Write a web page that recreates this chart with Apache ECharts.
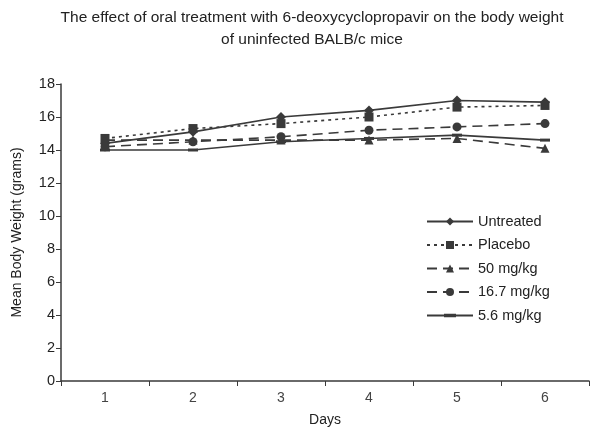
<!DOCTYPE html>
<html><head><meta charset="utf-8">
<script src="https://cdn.jsdelivr.net/npm/echarts@6/dist/echarts.min.js"></script>
<style>html,body{margin:0;padding:0;background:#fff}#c{width:600px;height:438px}</style>
</head><body><div id="c"></div>
<script>
const days = ['1','2','3','4','5','6'];
const untreated = [14.4, 15.1, 16.0, 16.4, 17.0, 16.9];
const placebo   = [14.7, 15.3, 15.6, 16.0, 16.6, 16.7];
const mg50      = [14.6, 14.6, 14.6, 14.6, 14.7, 14.1];
const mg167     = [14.2, 14.5, 14.8, 15.2, 15.4, 15.6];
const mg56      = [14.0, 14.0, 14.5, 14.7, 14.9, 14.6];
const yTicks = [0,2,4,6,8,10,12,14,16,18];

const C = '#3a3a3a';
const font = 'Liberation Sans, Arial, sans-serif';
function S(name, data, symbol, size, type){
  return {name, type:'line', data, symbol, symbolSize:size,
    lineStyle:{color:C, width:1.6, type}, itemStyle:{color:C}, z: 3};
}
const chart = echarts.init(document.getElementById('c'));
chart.setOption({
  animation:false,
  title:{text:'The effect of oral treatment with 6-deoxycyclopropavir on the body weight\nof uninfected BALB/c mice',
    left:307, textAlign:'center', top:2,
    textStyle:{fontFamily:font, fontSize:15.5, fontWeight:'normal', color:'#222', lineHeight:22}},
  grid:{left:61, right:11, top:84, bottom:57},
  legend:{orient:'vertical', left:421, top:209, itemWidth:46, itemHeight:10, itemGap:8.5,
    textStyle:{fontFamily:font, fontSize:14.5, color:'#222'},
    data:['Untreated','Placebo','50 mg/kg','16.7 mg/kg',
      {name:'5.6 mg/kg', icon:'path://M0,0 L46,0 L46,1.8 L0,1.8 Z M17,-0.8 L29,-0.8 L29,2.6 L17,2.6 Z'}]},
  xAxis:{type:'category', data:days, name:'Days', nameLocation:'middle', nameGap:32,
    nameTextStyle:{fontFamily:font, fontSize:14, color:'#222'},
    axisLine:{lineStyle:{color:C, width:1.5}},
    axisTick:{show:true, length:5, lineStyle:{color:C}},
    axisLabel:{fontFamily:font, fontSize:14, color:'#444', margin:10}},
  yAxis:{type:'value', min:0, max:18, interval:2, name:'Mean Body Weight (grams)', nameLocation:'middle', nameGap:37,
    nameTextStyle:{fontFamily:font, fontSize:14, color:'#222'},
    axisLine:{show:true, lineStyle:{color:C, width:1.5}},
    axisTick:{show:true, length:5, lineStyle:{color:C}},
    splitLine:{show:false},
    axisLabel:{fontFamily:font, fontSize:14.5, color:'#222', margin:6,
      formatter:v=>yTicks.includes(v)?String(v):''}},
  series:[
    S('Untreated', untreated, 'diamond', 10, 'solid'),
    S('Placebo', placebo, 'rect', 9, [3,4]),
    S('50 mg/kg', mg50, 'triangle', 9, [10,6]),
    S('16.7 mg/kg', mg167, 'circle', 9, [10,6]),
    S('5.6 mg/kg', mg56, 'rect', [10,3], 'solid')
  ]
});
</script></body></html>
